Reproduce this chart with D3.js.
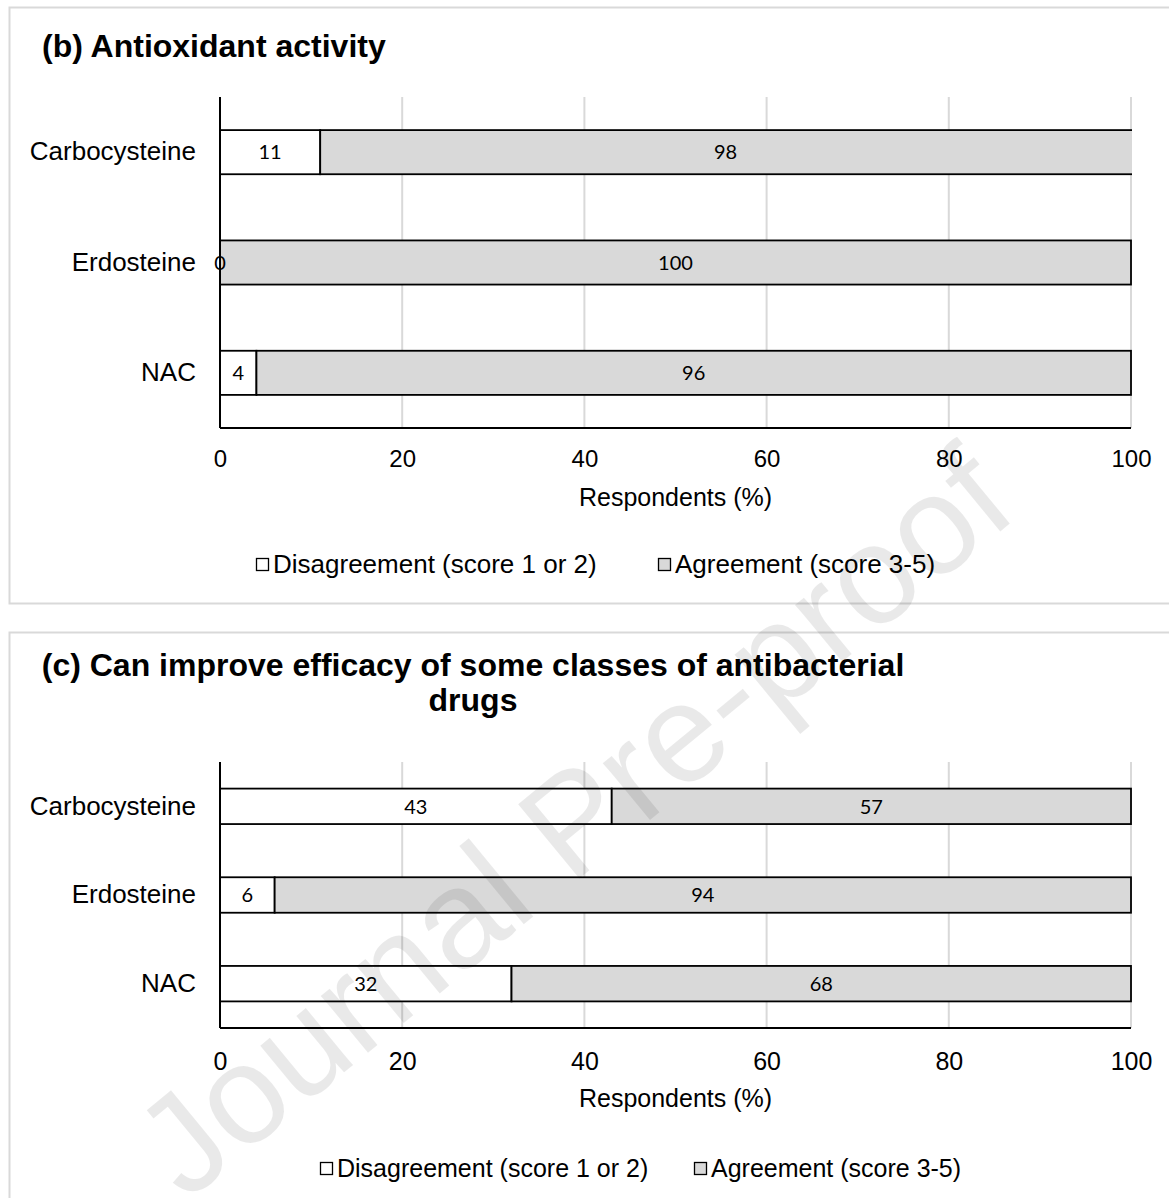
<!DOCTYPE html>
<html>
<head>
<meta charset="utf-8">
<script src="https://cdn.jsdelivr.net/npm/d3@7"></script>
<style>
  body { margin: 0; background: #fff; }
  svg { display: block; font-family: "Liberation Sans", Arial, sans-serif; }
</style>
</head>
<body>
<div id="chart"></div>
<script>
var categories = ["Carbocysteine", "Erdosteine", "NAC"];
var seriesNames = ["Disagreement (score 1 or 2)", "Agreement (score 3-5)"];
var seriesColors = ["#ffffff", "#d9d9d9"];
var xTicks = [0, 20, 40, 60, 80, 100];

// (b) Antioxidant activity
var antioxidantDisagree = [11, 0, 4];
var antioxidantAgree = [98, 100, 96];

// (c) Can improve efficacy of antibacterial drugs
var antibacterialDisagree = [43, 6, 32];
var antibacterialAgree = [57, 94, 68];

var W = 1169, H = 1198;

var svg = d3.select('#chart').append('svg')
    .attr('width', W)
    .attr('height', H);

function drawPanel(cfg) {
    var g = svg.append('g');

    // light grey frame around the chart
    g.append('rect')
        .attr('x', 9.5)
        .attr('y', cfg.boxTop)
        .attr('width', W)
        .attr('height', cfg.boxHeight)
        .attr('fill', 'none')
        .attr('stroke', '#d9d9d9')
        .attr('stroke-width', 2);

    // title
    g.selectAll('text.title')
        .data(cfg.title).enter()
        .append('text')
        .attr('class', 'title')
        .attr('x', cfg.titleX)
        .attr('y', function (d, i) { return cfg.titleY + i * cfg.titleStep; })
        .attr('text-anchor', cfg.titleAnchor)
        .attr('font-size', 32)
        .attr('font-weight', 'bold')
        .attr('fill', '#000')
        .text(function (d) { return d; });

    var x = d3.scaleLinear().domain([0, 100]).range([220, 1131]);
    var y = d3.scaleBand()
        .domain(categories)
        .range([cfg.plotTop, cfg.plotBottom])
        .paddingInner(0.6)
        .paddingOuter(0.3);

    // vertical gridlines
    g.selectAll('line.grid')
        .data(xTicks.slice(1)).enter()
        .append('line')
        .attr('class', 'grid')
        .attr('x1', function (d) { return x(d); })
        .attr('x2', function (d) { return x(d); })
        .attr('y1', cfg.plotTop)
        .attr('y2', cfg.plotBottom)
        .attr('stroke', '#d9d9d9')
        .attr('stroke-width', 2);

    var segs = [];
    categories.forEach(function (c, i) {
        segs.push({ cat: c, start: 0, value: cfg.dis[i], s: 0 });
        segs.push({ cat: c, start: cfg.dis[i], value: cfg.agr[i], s: 1 });
    });

    // bars past 100 get cut at the plot edge
    g.append('clipPath').attr('id', cfg.id)
        .append('rect')
        .attr('x', x(0) - 3)
        .attr('y', cfg.plotTop)
        .attr('width', x(100) - x(0) + 4)
        .attr('height', cfg.plotBottom - cfg.plotTop);

    g.append('g')
        .attr('clip-path', 'url(#' + cfg.id + ')')
        .selectAll('rect')
        .data(segs).enter()
        .append('rect')
        .attr('x', function (d) { return x(d.start); })
        .attr('y', function (d) { return y(d.cat); })
        .attr('width', function (d) { return x(d.start + d.value) - x(d.start); })
        .attr('height', y.bandwidth())
        .attr('fill', function (d) { return seriesColors[d.s]; })
        .attr('stroke', '#000')
        .attr('stroke-width', 1.8);

    g.selectAll('text.val')
        .data(segs).enter()
        .append('text')
        .attr('class', 'val')
        .attr('x', function (d) {
            var end = Math.min(x(d.start + d.value), x(100));
            return (x(d.start) + end) / 2;
        })
        .attr('y', function (d) { return y(d.cat) + y.bandwidth() / 2; })
        .attr('dy', '0.36em')
        .attr('text-anchor', 'middle')
        .attr('font-family', 'Lato, "Open Sans", sans-serif')
        .attr('font-size', 20)
        .attr('fill', '#000')
        .text(function (d) { return d.value; });

    // axis lines
    g.append('line')
        .attr('x1', x(0)).attr('x2', x(0))
        .attr('y1', cfg.plotTop).attr('y2', cfg.plotBottom)
        .attr('stroke', '#000').attr('stroke-width', 2);
    g.append('line')
        .attr('x1', x(0)).attr('x2', x(100))
        .attr('y1', cfg.plotBottom).attr('y2', cfg.plotBottom)
        .attr('stroke', '#000').attr('stroke-width', 2);

    var xAxis = g.append('g')
        .attr('transform', 'translate(0,' + cfg.plotBottom + ')')
        .call(d3.axisBottom(x).tickValues(xTicks).tickSize(0).tickPadding(cfg.tickPad));
    xAxis.select('.domain').remove();
    xAxis.attr('font-family', null);
    xAxis.selectAll('text').attr('font-size', cfg.tickFont).attr('fill', '#000');

    var yAxis = g.append('g')
        .attr('transform', 'translate(' + x(0) + ',0)')
        .call(d3.axisLeft(y).tickSize(0).tickPadding(24));
    yAxis.select('.domain').remove();
    yAxis.attr('font-family', null);
    yAxis.selectAll('text').attr('font-size', 26).attr('fill', '#000');

    g.append('text')
        .attr('x', (x(0) + x(100)) / 2)
        .attr('y', cfg.axisTitleY)
        .attr('text-anchor', 'middle')
        .attr('font-size', 25)
        .attr('fill', '#000')
        .text('Respondents (%)');

    // legend
    var leg = g.selectAll('g.leg')
        .data(seriesNames).enter()
        .append('g')
        .attr('class', 'leg')
        .attr('transform', function (d, i) { return 'translate(' + cfg.legendX[i] + ',' + cfg.legendY + ')'; });
    leg.append('rect')
        .attr('x', 0.5)
        .attr('y', -14.5)
        .attr('width', 12)
        .attr('height', 12)
        .attr('fill', function (d, i) { return seriesColors[i]; })
        .attr('stroke', '#000')
        .attr('stroke-width', 1.3);
    leg.append('text')
        .attr('x', 17)
        .attr('font-size', cfg.legendFont)
        .attr('fill', '#000')
        .text(function (d) { return d; });
}

drawPanel({
    id: 'clipB',
    boxTop: 7.5, boxHeight: 596,
    title: ['(b) Antioxidant activity'],
    titleX: 42, titleY: 57, titleStep: 0, titleAnchor: 'start',
    plotTop: 97, plotBottom: 428,
    tickPad: 22, tickFont: 24,
    axisTitleY: 506,
    legendY: 573, legendFont: 26, legendX: [256, 658],
    dis: antioxidantDisagree, agr: antioxidantAgree
});

drawPanel({
    id: 'clipC',
    boxTop: 632.5, boxHeight: 700,
    title: ['(c) Can improve efficacy of some classes of antibacterial', 'drugs'],
    titleX: 473, titleY: 676, titleStep: 35, titleAnchor: 'middle',
    plotTop: 762, plotBottom: 1028,
    tickPad: 24, tickFont: 25,
    axisTitleY: 1107,
    legendY: 1177, legendFont: 25, legendX: [320, 694],
    dis: antibacterialDisagree, agr: antibacterialAgree
});

// watermark over everything
svg.append('text')
    .attr('transform', 'translate(580,830) rotate(-39.5)')
    .attr('text-anchor', 'middle')
    .attr('dominant-baseline', 'middle')
    .attr('font-size', 140)
    .attr('fill', '#000')
    .attr('fill-opacity', 0.085)
    .text('Journal Pre-proof');
</script>
</body>
</html>
